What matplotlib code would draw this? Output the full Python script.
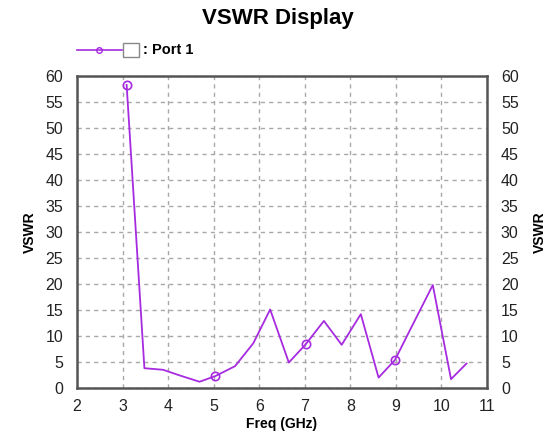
import matplotlib.pyplot as plt
import numpy as np
from matplotlib.lines import Line2D
from matplotlib.patches import Rectangle

plt.rcParams['font.family'] = ['Liberation Sans', 'DejaVu Sans']

freq = [3.09, 3.48, 3.89, 4.26, 4.69, 5.04, 5.47, 5.87, 6.24, 6.65,
        7.02, 7.42, 7.81, 8.23, 8.62, 8.98, 9.33, 9.81, 10.21, 10.55]
vswr = [58.3, 3.8, 3.5, 2.4, 1.2, 2.3, 4.2, 8.6, 15.1, 4.9,
        8.4, 12.9, 8.3, 14.2, 2.0, 5.4, 11.5, 19.8, 1.7, 4.7]
marker_idx = [0, 5, 10, 15]

purple = '#A62BE0'
gris = '#555555'

fig = plt.figure(figsize=(5.55, 4.32), dpi=100)
ax = fig.add_axes([0.1387, 0.1019, 0.7388, 0.7221])

ax.plot(freq, vswr, color=purple, lw=1.3, marker='o', markevery=marker_idx,
        markersize=6, markerfacecolor='none', markeredgecolor=purple, markeredgewidth=1.2)

ax.set_xlim(2, 11)
ax.set_ylim(0, 60)
ax.set_xticks(np.arange(2, 12, 1))
ax.set_yticks(np.arange(0, 65, 5))
ax.grid(True, color='#a8a8a8', linestyle=(0, (3, 3)), linewidth=1)
ax.tick_params(length=0, labelsize=11.5, labelcolor='#222222')
ax.tick_params(axis='y', right=True, labelright=True, pad=10)
ax.tick_params(axis='x', pad=8)
for s in ax.spines.values():
    s.set_color(gris)
    s.set_linewidth(1.8)

ax.set_xlabel('Freq (GHz)', fontsize=10, fontweight='bold', labelpad=2)
ax.set_ylabel('VSWR', fontsize=10, fontweight='bold', labelpad=6)
ax2 = ax.secondary_yaxis('right')
ax2.set_yticks([])
ax2.spines['right'].set_visible(False)
ax2.set_ylabel('VSWR', fontsize=10, fontweight='bold', labelpad=33)

fig.text(0.5, 0.958, 'VSWR Display', ha='center', va='center',
         fontsize=16, fontweight='bold')

# legend drawn by hand
fig.add_artist(Line2D([0.139, 0.220], [0.884, 0.884], color=purple, lw=1.2))
fig.add_artist(Line2D([0.179], [0.884], color=purple, marker='o', markersize=4,
                      markerfacecolor='none', markeredgewidth=1))
fig.add_artist(Rectangle((0.222, 0.868), 0.028, 0.033, fill=False,
                         edgecolor='#888888', lw=1))
fig.text(0.257, 0.884, ': Port 1', ha='left', va='center', fontsize=10.5,
         fontweight='bold')

fig.savefig('out.png', dpi=100)
